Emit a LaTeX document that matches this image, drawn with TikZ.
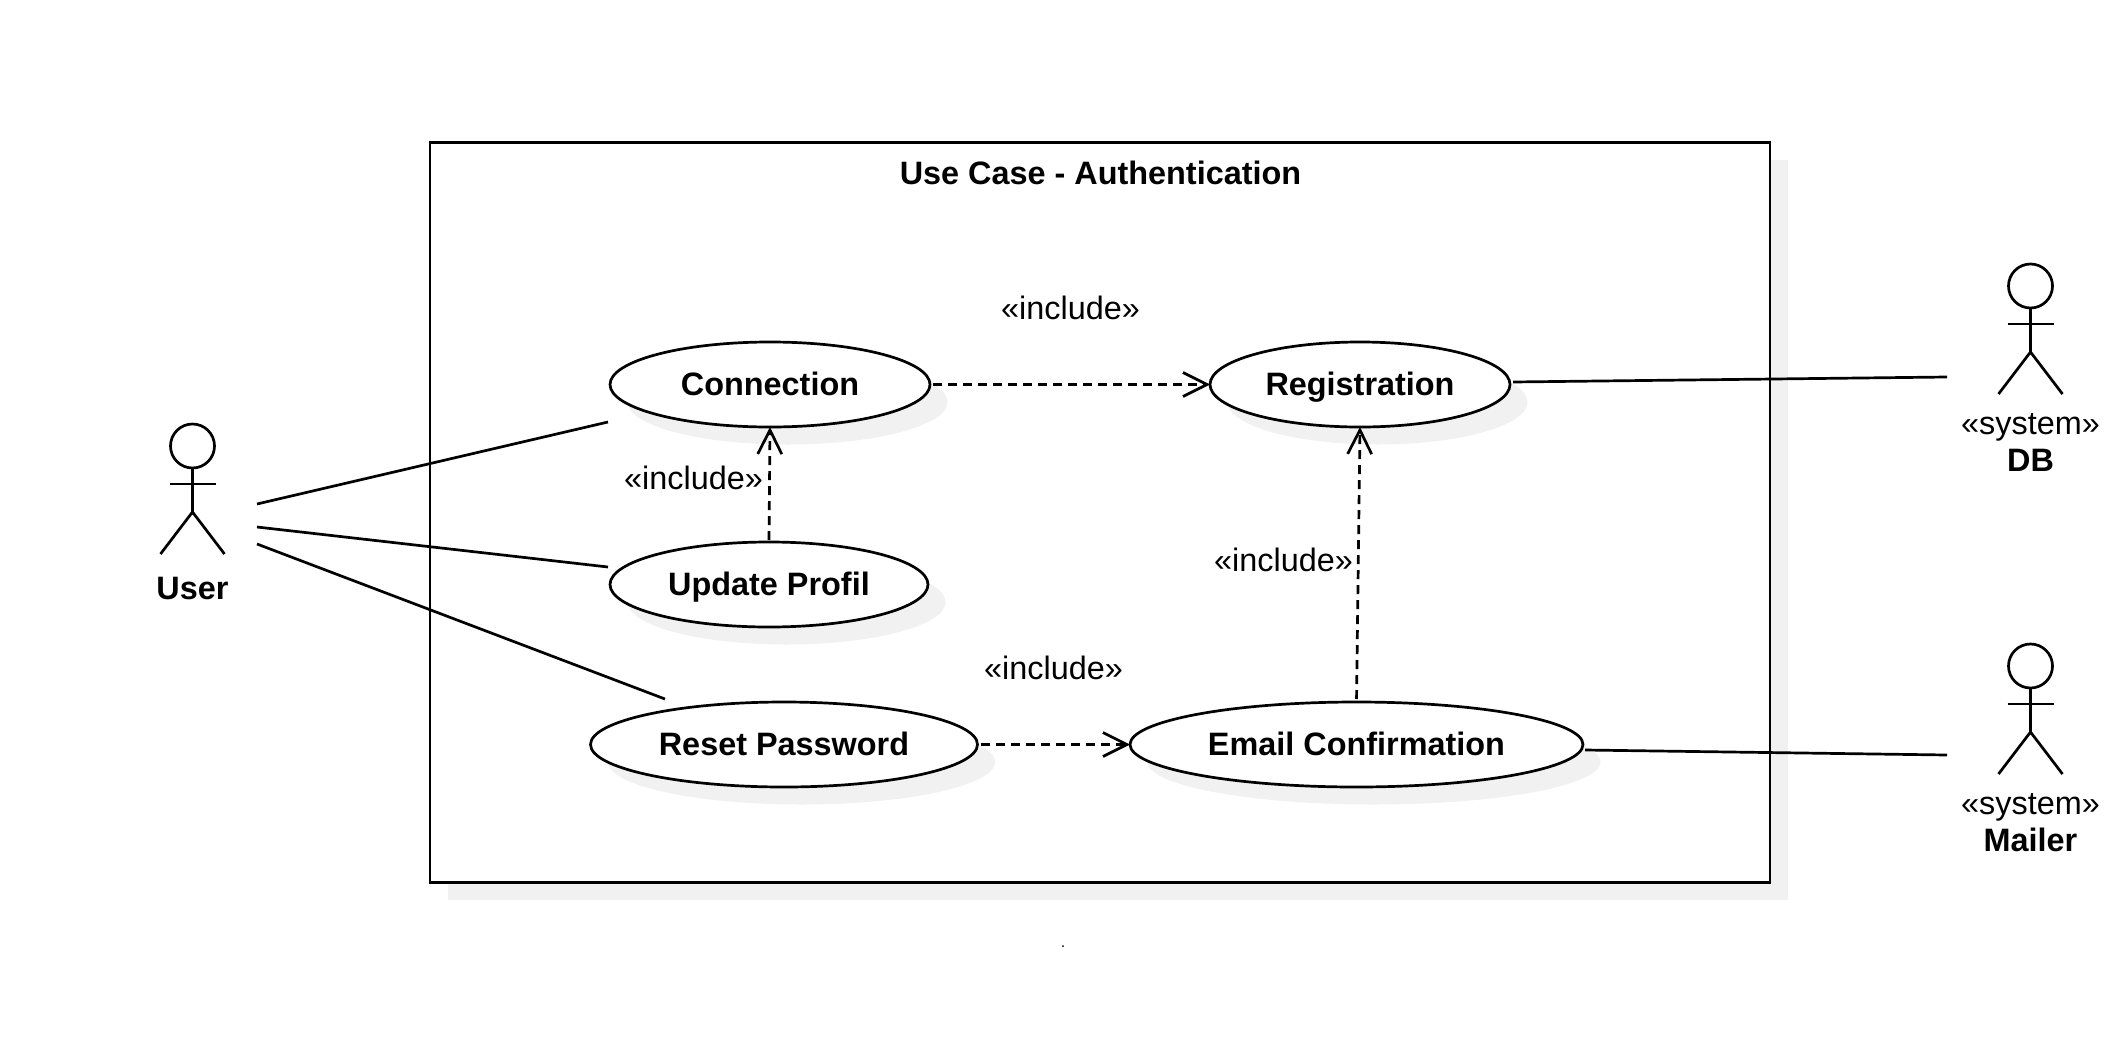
\documentclass[tikz,border=0pt]{standalone}
\usepackage{fontspec}
\setmainfont{Liberation Sans}
\usetikzlibrary{arrows.meta,shapes.geometric,shadows}
\definecolor{shadowgray}{HTML}{F1F1F1}
\tikzset{
  umlline/.style={line width=2.7pt},
  usecase/.style={ellipse, draw, umlline, fill=white, inner sep=0pt, outer sep=0pt,
    minimum height=85pt, text height=21.5pt, text depth=0pt, font=\fontsize{32.4}{38}\selectfont\bfseries,
    drop shadow={shadow xshift=17.5pt, shadow yshift=-17.5pt, fill=shadowgray, opacity=1}},
  sysframe/.style={rectangle, draw, umlline, fill=white, inner sep=0pt, outer sep=0pt,
    drop shadow={shadow xshift=17.5pt, shadow yshift=-17.5pt, fill=shadowgray, opacity=1}},
  bigtext/.style={inner sep=0pt, text height=21.5pt, text depth=0pt, font=\fontsize{32.4}{38}\selectfont},
  boldtext/.style={bigtext, font=\fontsize{32.4}{38}\selectfont\bfseries},
  include/.style={umlline, dash pattern=on 9pt off 6pt, -{Straight Barb[length=24pt,width=24pt]}},
  actor/.pic={
    \draw[umlline] (0,22) circle (22);
    \draw[umlline] (0,44) -- (0,88);
    \draw[umlline] (-23,60) -- (23,60);
    \draw[umlline] (-32,130) -- (0,88) -- (32,130);
  }
}
\begin{document}
\begin{tikzpicture}[x=1pt, y=-1pt]
  \useasboundingbox (0,0) rectangle (2105,1039);
  % System boundary
  \node[sysframe, minimum width=1340pt, minimum height=740pt] (frame) at (1100,512.5) {};
  \node[boldtext] (title) at (1100.5,174) {Use Case - Authentication};
  % Use cases
  \node[usecase, minimum width=320pt] (connection) at (770,384.5) {Connection};
  \node[usecase, minimum width=318pt] (update) at (769,584.5) {Update Profil};
  \node[usecase, minimum width=300pt] (registration) at (1360,384.5) {Registration};
  \node[usecase, minimum width=387pt] (reset) at (784,744.5) {Reset Password};
  \node[usecase, minimum width=453pt] (email) at (1356.5,744.5) {Email Confirmation};
  % Actors
  \pic at (192.5,424) {actor};
  \node[boldtext] (user) at (192.5,589) {User};
  \pic at (2030.5,264) {actor};
  \node[bigtext] (dbstereo) at (2030.5,424) {«system»};
  \node[boldtext] (db) at (2030.5,461) {DB};
  \pic at (2030.5,644) {actor};
  \node[bigtext] (mailerstereo) at (2030.5,804) {«system»};
  \node[boldtext] (mailer) at (2030.5,841) {Mailer};
  % Free ends of the associations
  \coordinate (user1) at (257,504);
  \coordinate (user2) at (257,527);
  \coordinate (user3) at (257,544);
  \coordinate (conn1) at (608,422);
  \coordinate (upd1) at (608,567);
  \coordinate (reset1) at (665,699);
  \coordinate (reg1) at (1513,382);
  \coordinate (db1) at (1947,377);
  \coordinate (email1) at (1585,750);
  \coordinate (mail1) at (1947,755);
  % Associations
  \draw[umlline] (user1) -- (conn1);
  \draw[umlline] (user2) -- (upd1);
  \draw[umlline] (user3) -- (reset1);
  \draw[umlline] (reg1) -- (db1);
  \draw[umlline] (email1) -- (mail1);
  % Includes
  \draw[include, shorten <=3pt] (connection.east) -- (registration.west);
  \draw[include, shorten <=2pt] (update.north) -- (connection.south);
  \draw[include, shorten <=3pt] (email.north) -- (registration.south);
  \draw[include, shorten <=3pt] (reset.east) -- (email.west);
  \node[bigtext] (inc1) at (1070.5,309) {«include»};
  \node[bigtext] (inc2) at (693.5,479) {«include»};
  \node[bigtext] (inc3) at (1283.5,561) {«include»};
  \node[bigtext] (inc4) at (1053.5,669) {«include»};
  % Stray dot
  \fill (1063,946) circle (1);
\end{tikzpicture}
\end{document}
